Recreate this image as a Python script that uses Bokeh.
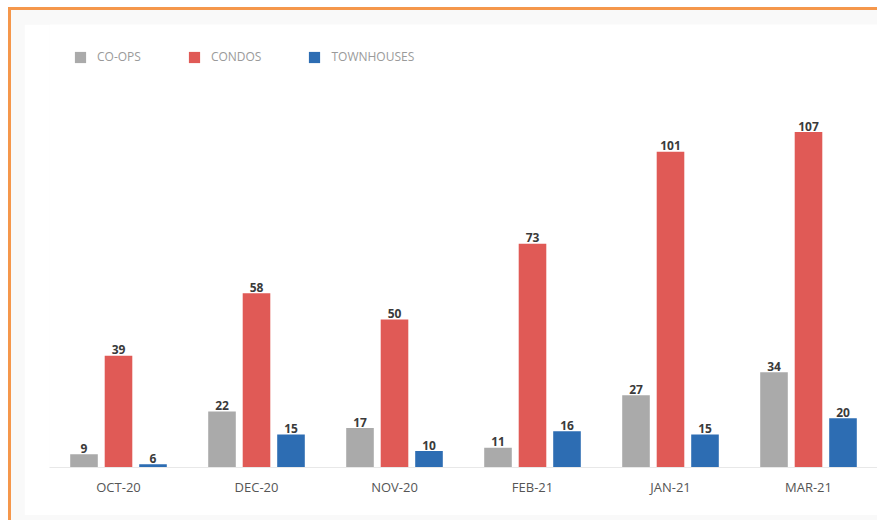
from bokeh.plotting import figure
from bokeh.layouts import column
from bokeh.models import Range1d, FactorRange, Legend, LegendItem, ColumnDataSource
from bokeh.transform import dodge
from bokeh.core.properties import value
from bokeh.embed import file_html
from bokeh.resources import INLINE

months = ["OCT-20", "DEC-20", "NOV-20", "FEB-21", "JAN-21", "MAR-21"]
coops = [9, 22, 17, 11, 27, 34]
condos = [39, 58, 50, 73, 101, 107]
townhouses = [6, 15, 10, 16, 15, 20]
series_names = ["CO-OPS", "CONDOS", "TOWNHOUSES"]
colors = ["#aaaaaa", "#e05a56", "#2d6db3"]

src = ColumnDataSource(dict(
    month=months, coops=coops, condos=condos, townhouses=townhouses,
    coops_t=[str(v) for v in coops], condos_t=[str(v) for v in condos],
    townhouses_t=[str(v) for v in townhouses],
))

# figure canvas sits at page (24, 24) inside a bordered container
W, H = 853, 491
ML, MT, MB = 25, 0, 48
p = figure(width=W, height=H, x_range=FactorRange(*months), y_range=Range1d(5, 139.7),
           output_backend="svg", toolbar_location=None,
           min_border_left=ML, min_border_right=0, min_border_top=MT, min_border_bottom=MB)
p.border_fill_color = "white"
p.background_fill_color = "white"
p.outline_line_color = None
p.xgrid.visible = False
p.ygrid.visible = False
p.yaxis.visible = False
p.x_range.range_padding = 0

vals = ["coops", "condos", "townhouses"]
offs = [-0.25, 0.0, 0.25]
items = []
for name, key, off, c in zip(series_names, vals, offs, colors):
    r = p.vbar(x=dodge("month", off, range=p.x_range), top=key, bottom=0, width=0.2,
               source=src, fill_color=c, line_color=None)
    items.append(LegendItem(label=name, renderers=[r]))
    p.text(x=dodge("month", off, range=p.x_range), y=key, text=key + "_t", source=src,
           text_align="center", text_baseline="alphabetic", y_offset=-6,
           text_font=value("Open Sans"), text_font_style="bold", text_font_size="12px",
           text_color="#3a3a3a")

leg = Legend(items=items, orientation="horizontal", location="top_left")
leg.glyph_width = 14
leg.glyph_height = 14
leg.label_height = 14
leg.label_standoff = 10
leg.spacing = 46
leg.padding = 0
leg.margin = 24
leg.border_line_color = None
leg.background_fill_alpha = 0
leg.label_text_font = "Open Sans"
leg.label_text_font_size = "12px"
leg.label_text_color = "#9a9a9a"
p.add_layout(leg, "center")

ax = p.xaxis[0]
ax.axis_line_color = "#e8e8e8"
ax.axis_line_width = 1
ax.major_tick_line_color = None
ax.minor_tick_line_color = None
ax.major_tick_out = 0
ax.major_label_standoff = 10
ax.major_label_text_font = "Open Sans"
ax.major_label_text_font_size = "13px"
ax.major_label_text_color = "#555555"

page = column(p, styles={
    "margin-left": "8px", "margin-top": "7px",
    "border-top": "3px solid #f5974b", "border-left": "3px solid #f5974b",
    "background-color": "#f9f9f9",
    "padding-left": "13px", "padding-top": "14px", "padding-bottom": "5px",
})

open("out.html", "w").write(file_html(page, INLINE))
